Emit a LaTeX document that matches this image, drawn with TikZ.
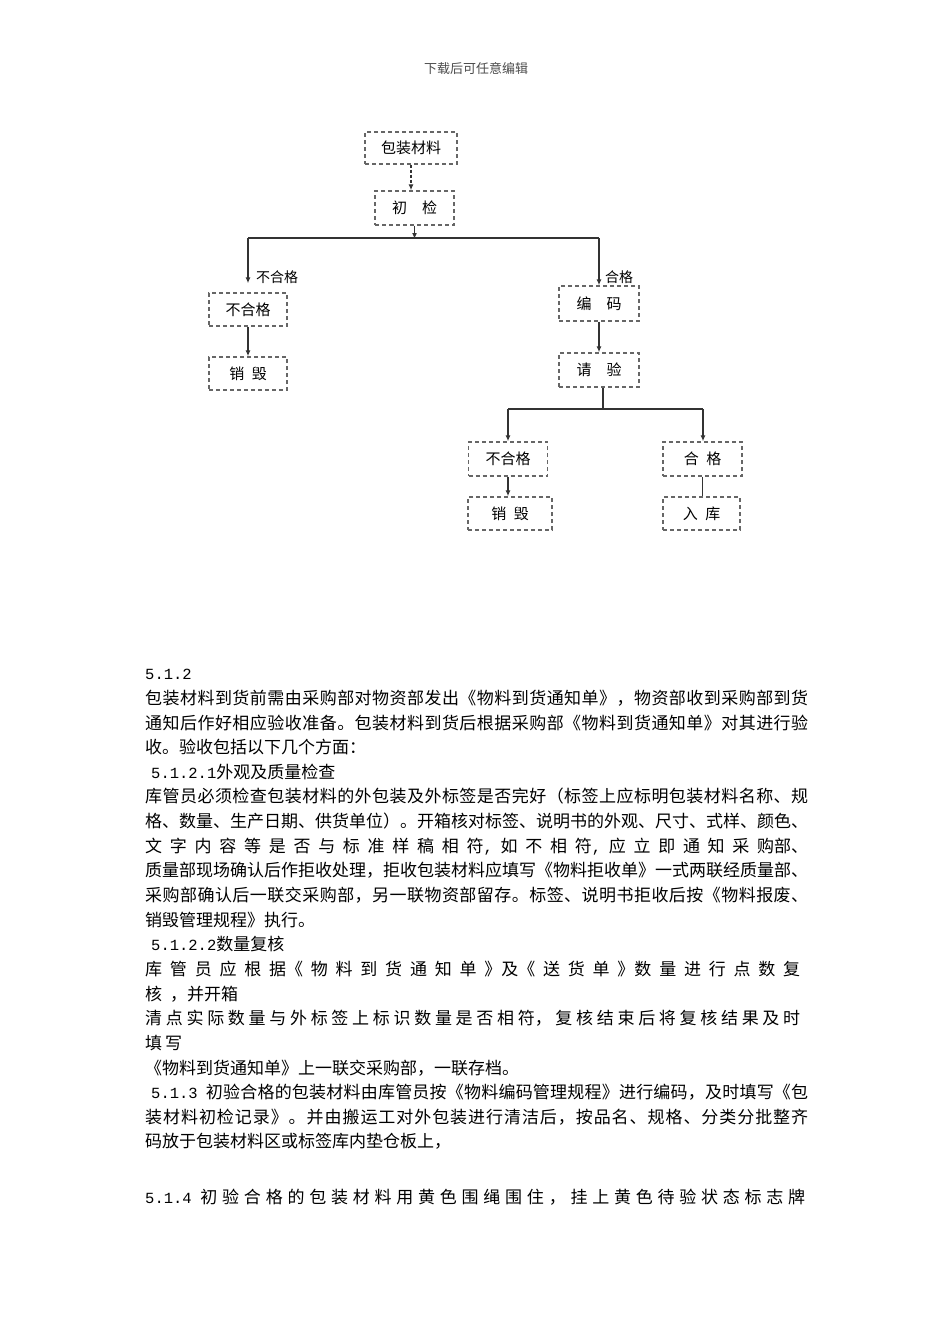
\documentclass[tikz,border=0pt]{standalone}
\usepackage{fontspec}
\newfontfamily\cjk{Noto Sans CJK SC}
\newfontfamily\numf{Liberation Mono}
\usetikzlibrary{arrows.meta,calc}
\newcommand\nm[1]{{\numf\fontsize{15.5}{18}\selectfont #1}}
\ExplSyntaxOn
\NewDocumentCommand\jline{m m}{
  \hbox_to_wd:nn {#1} {
    \bool_set_true:N \l_tmpa_bool
    \tl_map_inline:nn {#2} {
      \bool_if:NF \l_tmpa_bool { \skip_horizontal:n { 0pt plus 1fil } }
      \bool_set_false:N \l_tmpa_bool
      ##1
    }
  }
}
\ExplSyntaxOff
\tikzset{
  box/.style={draw=black!60, dash pattern=on 4pt off 3pt, line width=1.4pt, inner sep=0pt,
    font=\cjk\fontsize{15}{18}\selectfont},
  conn/.style={draw=black!80, line width=1.4pt},
  arr/.style={conn, -{Latex[length=6pt,width=5pt]}},
  lbl/.style={inner sep=0pt, font=\cjk\fontsize{14}{17}\selectfont},
  body/.style={anchor=base west, inner sep=0pt, font=\cjk\fontsize{17}{20}\selectfont},
}
\begin{document}
\begin{tikzpicture}[x=1pt,y=-1pt]
\useasboundingbox (0,0) rectangle (950,1344);
\fill[white] (0,0) rectangle (950,1344);
% header
\node[font=\cjk\fontsize{13}{15}\selectfont, text=black!70, inner sep=0pt] (hdr) at (476,69) {下载后可任意编辑};
% flowchart boxes
\node[box, minimum width=92pt, minimum height=32pt] (pkg) at (411,148) {包装材料};
\node[box, minimum width=79pt, minimum height=34pt] (cj) at (414.5,208) {初\hspace{1em}检};
\node[box, minimum width=78pt, minimum height=33pt] (bhg1) at (248,309.5) {不合格};
\node[box, minimum width=78pt, minimum height=33pt] (xh1) at (248,373.5) {销\hspace{0.5em}毁};
\node[box, minimum width=80pt, minimum height=35pt] (bm) at (599,303.5) {编\hspace{1em}码};
\node[box, minimum width=80pt, minimum height=34pt] (qy) at (599,370) {请\hspace{1em}验};
\node[box, minimum width=79pt, minimum height=34pt] (bhg2) at (508,459) {不合格};
\node[box, minimum width=84pt, minimum height=33pt] (xh2) at (510,513.5) {销\hspace{0.5em}毁};
\node[box, minimum width=79pt, minimum height=34pt] (hg) at (702.5,459) {合\hspace{0.5em}格};
\node[box, minimum width=77pt, minimum height=33pt] (rk) at (701.5,513.5) {入\hspace{0.5em}库};
% edge labels
\node[lbl] (lb1) at (277,277) {不合格};
\node[lbl] (lb2) at (619,277) {合格};
% junctions
\coordinate (j1) at (414.5,239);
\coordinate (j1l) at (248,238);
\coordinate (j1r) at (599,238);
\coordinate (j2) at (603,409);
\coordinate (j2l) at (508,409);
\coordinate (j2r) at (703,409);
% connectors
\draw[arr, dashed, dash pattern=on 3pt off 2pt] (pkg.south) -- (pkg.south |- cj.north);
\draw[arr] (cj.south) -- (j1);
\draw[conn] (j1l) -- (j1r);
\draw[arr, shorten >=9pt] (j1l) -- (bhg1.north);
\draw[arr] (j1r) -- (bm.north);
\draw[arr] (bhg1.south) -- (xh1.north);
\draw[arr] (bm.south) -- (qy.north);
\draw[conn] (qy.south -| j2) -- (j2);
\draw[conn] (j2l) -- (j2r);
\draw[arr] (j2l) -- (bhg2.north);
\draw[arr] (j2r) -- (j2r |- hg.north);
\draw[arr] (bhg2.south) -- (bhg2.south |- xh2.north);
\draw[conn] (hg.south) -- (hg.south |- rk.north);
% body text
\node[body] (t0) at (145,679.5) {\nm{5.1.2}};
\node[body] (t1) at (145,704.5) {\jline{663pt}{包装材料到货前需由采购部对物资部发出《物料到货通知单》，物资部收到采购部到货}};
\node[body] (t2) at (145,729) {\jline{663pt}{通知后作好相应验收准备。包装材料到货后根据采购部《物料到货通知单》对其进行验}};
\node[body] (t3) at (145,753.5) {收。验收包括以下几个方面：};
\node[body] (t4) at (151,778) {\nm{5.1.2.1}外观及质量检查};
\node[body] (t5) at (145,802.5) {\jline{663pt}{库管员必须检查包装材料的外包装及外标签是否完好（标签上应标明包装材料名称、规}};
\node[body] (t6) at (145,827.5) {\jline{663pt}{格、数量、生产日期、供货单位）。开箱核对标签、说明书的外观、尺寸、式样、颜色、}};
\node[body] (t7) at (145,852) {\jline{663pt}{文字内容等是否与标准样稿相{符\nm{,}}如不相{符\nm{,}}应立即通知采{购部、}}};
\node[body] (t8) at (145,876.5) {\jline{663pt}{质量部现场确认后作拒收处理，拒收包装材料应填写《物料拒收单》一式两联经质量部、}};
\node[body] (t9) at (145,901.5) {\jline{663pt}{采购部确认后一联交采购部，另一联物资部留存。标签、说明书拒收后按《物料报废、}};
\node[body] (t10) at (145,926) {销毁管理规程》执行。};
\node[body] (t11) at (151,950.5) {\nm{5.1.2.2}数量复核};
\node[body] (t12) at (145,975.5) {\jline{655pt}{库管员应根{据《}物料到货通知单{》及《}送货单{》数}量进行点数复}};
\node[body] (t13) at (145,1000) {核\hspace{8pt}，并开箱};
\node[body] (t14) at (145,1024.5) {\jline{655pt}{清点实际数量与外标签上标识数量是否相{符，}复核结束后将复核结果及时}};
\node[body] (t15) at (145,1049.5) {填\hspace{3pt}写};
\node[body] (t16) at (145,1074) {《物料到货通知单》上一联交采购部，一联存档。};
\node[body] (t17) at (151,1098.5) {\jline{657pt}{{\nm{5.1.3}\hspace{8pt}}初验合格的包装材料由库管员按《物料编码管理规程》进行编码，及时填写《包}};
\node[body] (t18) at (145,1123) {\jline{663pt}{装材料初检记录》。并由搬运工对外包装进行清洁后，按品名、规格、分类分批整齐}};
\node[body] (t19) at (145,1147.5) {码放于包装材料区或标签库内垫仓板上，};
\node[body] (t20) at (145,1203.5) {\jline{660pt}{{\nm{5.1.4}\hspace{4pt}}初验合格的包装材料用黄色围绳围住，挂上黄色待验状态标志牌}};
\end{tikzpicture}
\end{document}
